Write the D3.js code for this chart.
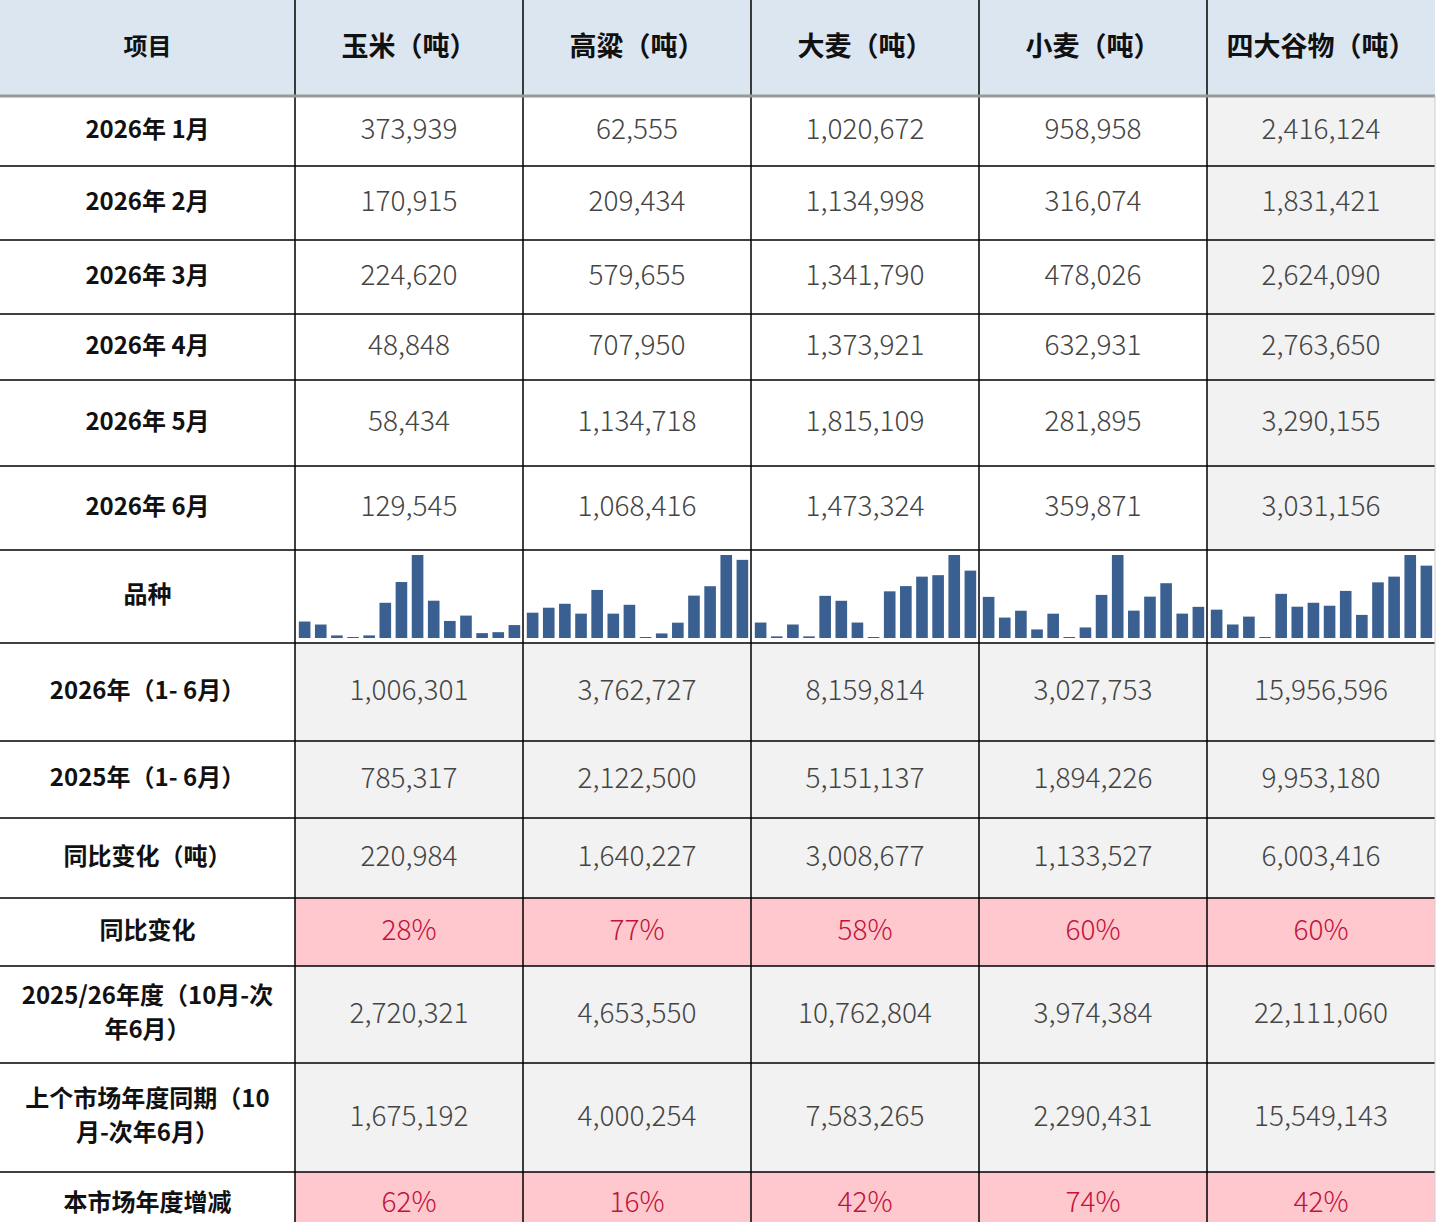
<!DOCTYPE html>
<html><head><meta charset="utf-8">
<script src="https://cdn.jsdelivr.net/npm/d3@7"></script>
<style>body{margin:0;background:#fff}</style>
</head><body>
<svg id="t" width="1436" height="1222"></svg>
<script>
const columns = ["项目", "玉米（吨）", "高粱（吨）", "大麦（吨）", "小麦（吨）", "四大谷物（吨）"];
const monthLabels = ["2026年 1月", "2026年 2月", "2026年 3月", "2026年 4月", "2026年 5月", "2026年 6月"];
const monthValues = [
  [373939, 62555, 1020672, 958958, 2416124],
  [170915, 209434, 1134998, 316074, 1831421],
  [224620, 579655, 1341790, 478026, 2624090],
  [48848, 707950, 1373921, 632931, 2763650],
  [58434, 1134718, 1815109, 281895, 3290155],
  [129545, 1068416, 1473324, 359871, 3031156]
];
// 14 months of history per column (estimated from sparklines)
const sparkData = [
  [165000, 135000, 26000, 7000, 26000, 353000, 561000, 832000, 373939, 170915, 224620, 48848, 58434, 129545],
  [346000, 414000, 468000, 333000, 657000, 333000, 454000, 9000, 62555, 209434, 579655, 707950, 1134718, 1068416],
  [338000, 36000, 295000, 36000, 922000, 814000, 338000, 14000, 1020672, 1134998, 1341790, 1373921, 1815109, 1473324],
  [475000, 236000, 315000, 99000, 281000, 8000, 122000, 498000, 958958, 316074, 478026, 632931, 281895, 359871],
  [1959000, 1598000, 1790000, 1285000, 2344000, 2031000, 2127000, 2055000, 2416124, 1831421, 2624090, 2763650, 3290155, 3031156]
];
const sparkMin = [0, 0, 0, 0, 1269000];
const summaryRows = [
  {label: ["2026年（1- 6月）"], values: ["1,006,301", "3,762,727", "8,159,814", "3,027,753", "15,956,596"], pct: false},
  {label: ["2025年（1- 6月）"], values: ["785,317", "2,122,500", "5,151,137", "1,894,226", "9,953,180"], pct: false},
  {label: ["同比变化（吨）"], values: ["220,984", "1,640,227", "3,008,677", "1,133,527", "6,003,416"], pct: false},
  {label: ["同比变化"], values: ["28%", "77%", "58%", "60%", "60%"], pct: true},
  {label: ["2025/26年度（10月-次", "年6月）"], values: ["2,720,321", "4,653,550", "10,762,804", "3,974,384", "22,111,060"], pct: false},
  {label: ["上个市场年度同期（10", "月-次年6月）"], values: ["1,675,192", "4,000,254", "7,583,265", "2,290,431", "15,549,143"], pct: false},
  {label: ["本市场年度增减"], values: ["62%", "16%", "42%", "74%", "42%"], pct: true}
];

const colX = [0, 295, 523, 751, 979, 1207, 1435];
const rowY = [0, 96, 166, 240, 314, 380, 466, 550, 643, 741, 818, 898, 966, 1063, 1172, 1236];
const font = "'Noto Sans CJK SC', 'Noto Sans', sans-serif";
const svg = d3.select("#t");

function cell(r, c, fill) {
  svg.append("rect").attr("x", colX[c]).attr("y", rowY[r])
    .attr("width", colX[c + 1] - colX[c]).attr("height", rowY[r + 1] - rowY[r])
    .attr("fill", fill);
}
function text(r, c, lines, opt) {
  const cx = (colX[c] + colX[c + 1]) / 2, cy = (rowY[r] + rowY[r + 1]) / 2 - 4;
  const lh = opt.size * 1.45;
  lines.forEach((s, i) => {
    svg.append("text").attr("x", cx).attr("y", cy + (i - (lines.length - 1) / 2) * lh)
      .attr("text-anchor", "middle").attr("dominant-baseline", "central")
      .style("font-family", font).style("font-size", opt.size + "px")
      .style("font-weight", opt.weight).style("fill", opt.color).text(s);
  });
}

// header
for (let c = 0; c < 6; c++) {
  cell(0, c, "#dce6f1");
  text(0, c, [columns[c]], {size: c === 0 ? 24 : 27, weight: 700, color: "#111"});
}
// month rows
monthLabels.forEach((lab, i) => {
  const r = i + 1;
  for (let c = 0; c < 6; c++) cell(r, c, c === 5 ? "#f2f2f2" : "#fff");
  text(r, 0, [lab], {size: 24, weight: 700, color: "#111"});
  monthValues[i].forEach((v, j) => text(r, j + 1, [d3.format(",")(v)], {size: 28, weight: 300, color: "#444"}));
});
// sparkline row
const sr = 7;
for (let c = 0; c < 6; c++) cell(sr, c, "#fff");
text(sr, 0, ["品种"], {size: 24, weight: 700, color: "#111"});
sparkData.forEach((d, j) => {
  const x = d3.scaleBand().domain(d3.range(d.length)).range([colX[j + 1] + 3, colX[j + 2] - 2]).paddingInner(0.28).paddingOuter(0.05);
  const y = d3.scaleLinear().domain([sparkMin[j], d3.max(d)]).range([rowY[sr + 1] - 5, rowY[sr] + 5]).clamp(true);
  svg.append("g").selectAll("rect").data(d).join("rect")
    .attr("x", (v, i) => x(i)).attr("width", x.bandwidth())
    .attr("y", v => Math.min(y(v), rowY[sr + 1] - 6))
    .attr("height", v => Math.max(1, rowY[sr + 1] - 5 - y(v)))
    .attr("fill", "#3a6091");
});
// summary rows
summaryRows.forEach((row, i) => {
  const r = sr + 1 + i;
  cell(r, 0, "#fff");
  for (let c = 1; c < 6; c++) cell(r, c, row.pct ? "#ffc7ce" : "#f2f2f2");
  text(r, 0, row.label, {size: 24, weight: 700, color: "#111"});
  row.values.forEach((v, j) => text(r, j + 1, [v], {size: 28, weight: 300, color: row.pct ? "#c0143c" : "#444"}));
});

// grid lines
const g = svg.append("g").attr("stroke", "#000").attr("stroke-width", 1.5);
colX.slice(1, 6).forEach(x => g.append("line").attr("x1", x).attr("x2", x).attr("y1", 0).attr("y2", 1222));
rowY.slice(2, 15).forEach(y => g.append("line").attr("x1", 0).attr("x2", 1435).attr("y1", y).attr("y2", y));
svg.append("line").attr("x1", 0).attr("x2", 1435).attr("y1", 96).attr("y2", 96).attr("stroke", "#999").attr("stroke-width", 3);
svg.append("line").attr("x1", 1435).attr("x2", 1435).attr("y1", 96).attr("y2", 1222).attr("stroke", "#ccc").attr("stroke-width", 1);
</script>
</body></html>
